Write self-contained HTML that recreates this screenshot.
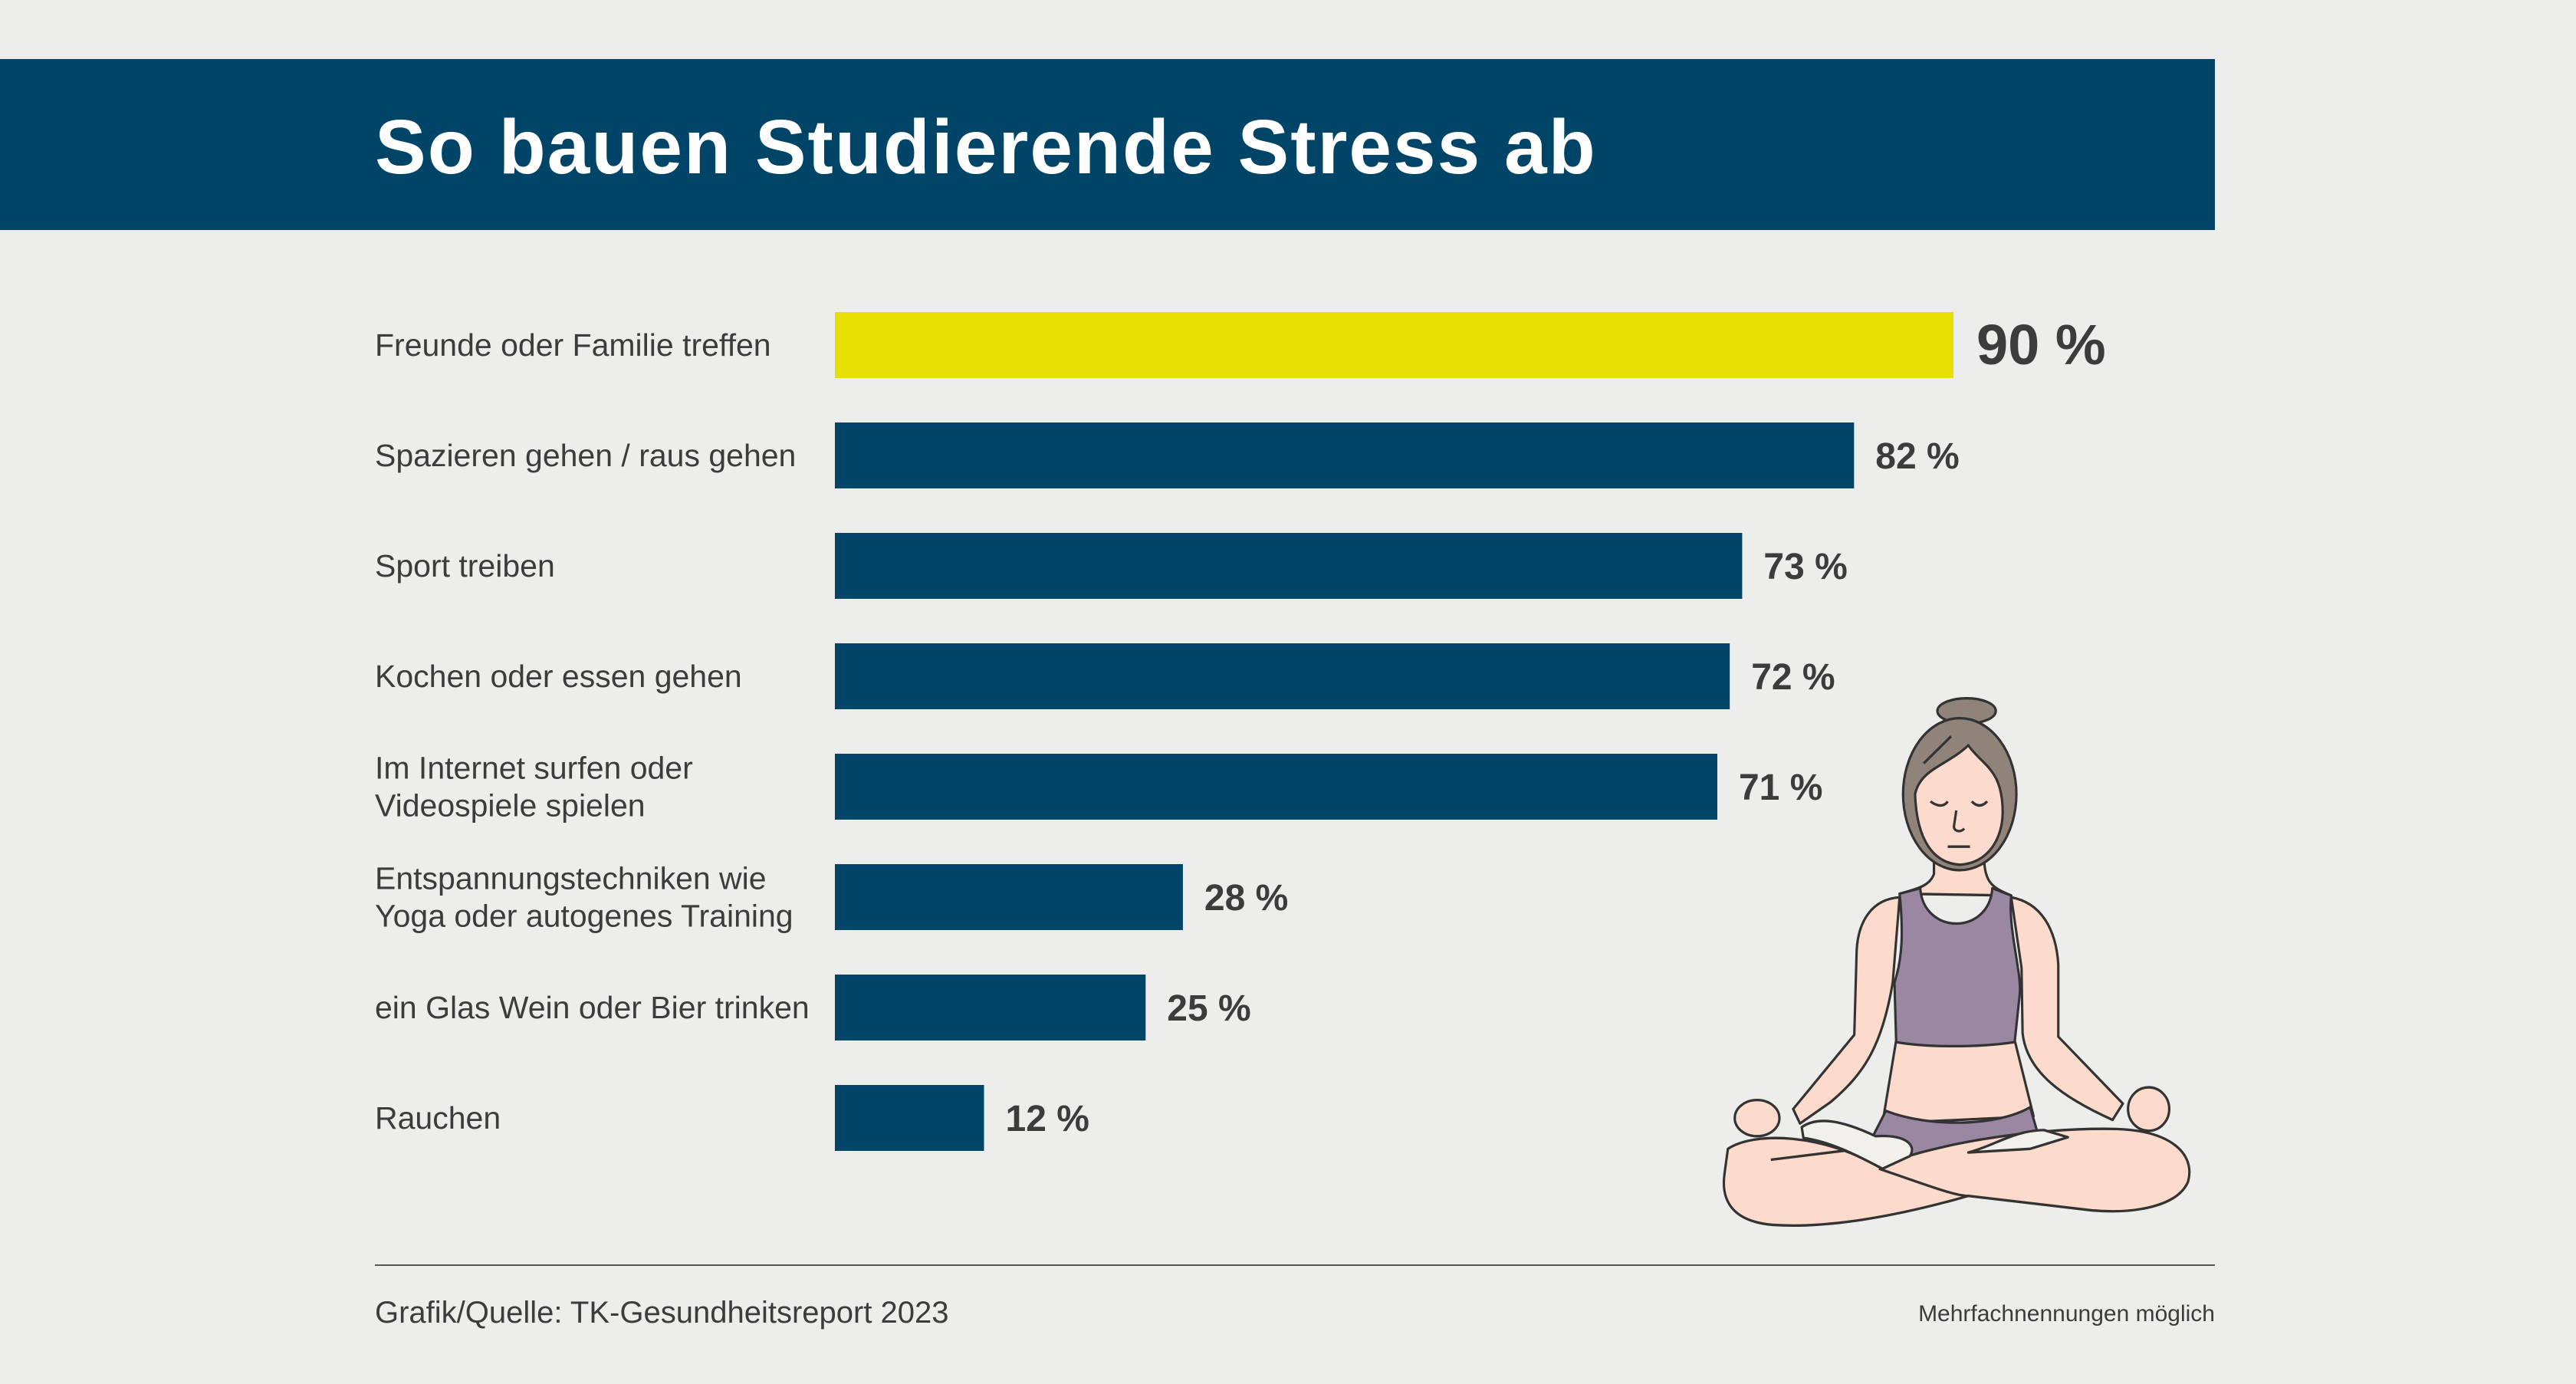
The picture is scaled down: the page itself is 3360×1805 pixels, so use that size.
<!DOCTYPE html>
<html><head><meta charset="utf-8"><style>
body{margin:0;background:#ededeb;width:3360px;height:1800px;overflow:hidden;font-family:"Liberation Sans","DejaVu Sans",sans-serif;}
</style></head><body>
<svg width="3360" height="1800" xmlns="http://www.w3.org/2000/svg">
<rect x="0" y="0" width="3360" height="1800" fill="#ededeb"/>
<rect x="0" y="77" width="2889" height="223" fill="#004467"/>
<text x="489" y="226" font-size="100" font-weight="bold" fill="#fff" letter-spacing="2" font-family="Liberation Sans, sans-serif">So bauen Studierende Stress ab</text>
<g id="bars"></g>
<g transform="translate(2200,880) scale(0.448,0.472)" stroke="#333" stroke-width="7" stroke-linejoin="round">
 <path d="M620,615 C540,620 500,680 495,760 L488,995 L310,1200 L330,1240 L420,1180 C520,1100 570,1020 600,850 Z" fill="#fddbcc"/>
 <path d="M945,615 C1030,630 1075,700 1082,800 L1082,1000 L1270,1185 L1240,1230 C1100,1170 990,1100 978,990 L975,810 Z" fill="#fddbcc"/>
 <ellipse cx="205" cy="1225" rx="65" ry="50" fill="#fddbcc"/>
 <ellipse cx="1345" cy="1200" rx="60" ry="60" fill="#fddbcc"/>
 <path d="M720,470 L720,550 C710,580 680,590 620,605 L945,610 C880,585 865,570 865,480 Z" fill="#fddbcc"/>
 <path d="M610,1010 L955,1010 L1010,1220 L570,1240 Z" fill="#fddbcc"/>
 <path d="M620,605 L680,590 C690,720 880,720 890,590 L945,610 C935,700 975,820 970,880 L955,1015 C850,1030 700,1030 610,1015 L605,850 C630,780 630,700 620,605 Z" fill="#9a88a3"/>
 <path d="M580,1205 C700,1250 900,1250 1000,1195 L1020,1260 L820,1320 L560,1330 L545,1270 Z" fill="#9a88a3"/>
 <path d="M120,1310 C200,1260 400,1270 560,1360 C700,1300 1000,1250 1250,1255 C1420,1260 1480,1330 1460,1400 C1430,1470 1300,1490 1180,1480 L820,1440 C600,1500 400,1530 250,1520 C130,1510 100,1450 110,1380 Z" fill="#fddbcc"/>
 <path d="M560,1365 C700,1410 780,1440 820,1440" fill="none"/>
 <path d="M245,1340 L460,1315" fill="none"/>
 <path d="M335,1250 C380,1220 450,1230 550,1275 C640,1270 670,1300 650,1330 L570,1365 C500,1330 420,1290 340,1280 Z" fill="#f1f0ea"/>
 <path d="M820,1320 C900,1300 950,1260 1040,1258 L1110,1278 L1000,1310 Z" fill="#f1f0ea"/>
 <ellipse cx="815" cy="100" rx="85" ry="35" fill="#8f837a"/>
 <ellipse cx="795" cy="330" rx="165" ry="210" fill="#8f837a"/>
 <path d="M665,330 C680,260 760,250 820,195 C860,250 920,260 920,380 C920,450 880,520 795,525 C720,520 670,460 665,330 Z" fill="#fddbcc"/>
 <path d="M710,350 C730,365 750,365 760,350 M830,350 C845,365 860,365 875,350 M785,375 L778,420 C780,435 800,435 808,425 M760,475 L825,475 M690,245 L770,170" fill="none"/>
</g>
<line x1="489" y1="1650" x2="2889" y2="1650" stroke="#555" stroke-width="2"/>
<text x="489" y="1725" font-size="40" fill="#3c3c3c">Grafik/Quelle: TK-Gesundheitsreport 2023</text>
<text x="2889" y="1723" font-size="30" fill="#3c3c3c" text-anchor="end">Mehrfachnennungen möglich</text>
</svg>
<script>
const categories=[["Freunde oder Familie treffen"],["Spazieren gehen / raus gehen"],["Sport treiben"],["Kochen oder essen gehen"],["Im Internet surfen oder","Videospiele spielen"],["Entspannungstechniken wie","Yoga oder autogenes Training"],["ein Glas Wein oder Bier trinken"],["Rauchen"]];
const values=[90,82,73,72,71,28,25,12];
const valueLabels=["90 %","82 %","73 %","72 %","71 %","28 %","25 %","12 %"];
const NS="http://www.w3.org/2000/svg";
const g=document.getElementById('bars');
const x0=1089, pxPer=(2548-1089)/90;
function xs(v){return x0+v*pxPer;}
function yTop(i){return 407+i*144;}
const bh=86;
values.forEach((v,i)=>{
 const r=document.createElementNS(NS,'rect');
 r.setAttribute('x',x0);r.setAttribute('y',yTop(i));r.setAttribute('width',xs(v)-x0);r.setAttribute('height',bh);
 r.setAttribute('fill',i===0?'#e6e000':'#004467');
 
 
 g.appendChild(r);
 const cy=yTop(i)+bh/2;
 const lines=categories[i];
 lines.forEach((ln,j)=>{
  const t=document.createElementNS(NS,'text');
  t.setAttribute('x',489);
  t.setAttribute('y',cy+14+(j-(lines.length-1)/2)*49);
  t.setAttribute('font-size','41');t.setAttribute('fill','#3c3c3c');
  t.textContent=ln;
  
  
  g.appendChild(t);
 });
 const vt=document.createElementNS(NS,'text');
 vt.setAttribute('x',xs(v)+(i===0?30:28));
 vt.setAttribute('y',cy+(i===0?25:17));
 vt.setAttribute('font-size',i===0?'74':'48');vt.setAttribute('font-weight','bold');vt.setAttribute('fill','#3c3c3c');
 vt.textContent=valueLabels[i];
 
 
 g.appendChild(vt);
});
</script>
</body></html>
